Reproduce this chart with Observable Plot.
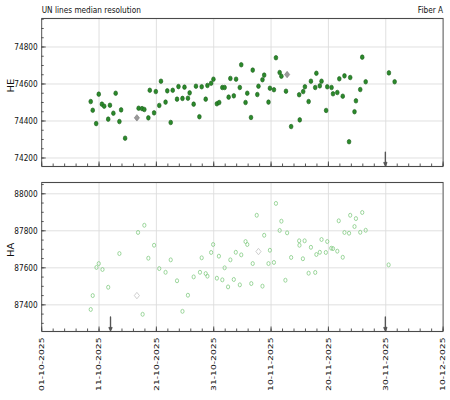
<!DOCTYPE html>
<html><head><meta charset="utf-8">
<script src="https://cdn.jsdelivr.net/npm/d3@7"></script>
<script src="https://cdn.jsdelivr.net/npm/@observablehq/plot@0.6"></script>
<style>
html,body{margin:0;padding:0;background:#fff;overflow:hidden;}
#chart svg{display:block;}
</style></head><body><div id="chart"></div>
<script>
// ---- data ----
const title = "UN lines median resolution";
const subtitle = "Fiber A";
const xTickLabels = ["01-10-2025","11-10-2025","21-10-2025","31-10-2025","10-11-2025","20-11-2025","30-11-2025","10-12-2025"];
// day offsets from 01-10-2025
const heDay = [8.55,8.9,9.5,9.95,10.5,10.9,11.6,11.9,12.5,12.9,13.55,13.85,14.55,16.9,17.5,17.9,18.6,18.85,19.6,19.9,20.5,20.8,21.6,21.9,22.5,22.85,23.6,23.85,24.55,24.9,25.5,25.8,26.5,26.9,27.5,27.9,28.6,28.9,29.55,29.95,30.55,30.95,31.5,31.9,32.6,32.9,33.5,33.9,34.55,34.8,35.55,35.85,36.5,36.8,37.6,37.8,38.5,38.8,39.55,39.8,40.5,40.85,41.5,41.8,42.6,43.5,44.9,45.0,45.6,45.9,46.55,46.95,47.7,47.9,48.5,48.8,49.6,49.8,50.55,50.8,51.55,51.9,52.5,52.8,53.6,53.8,54.55,54.8,55.55,55.9,56.5,60.55,61.55];
const heVal = [74505,74458,74386,74545,74491,74480,74410,74485,74442,74550,74397,74460,74307,74469,74467,74462,74417,74566,74444,74559,74484,74615,74502,74563,74392,74566,74518,74586,74522,74583,74523,74552,74491,74588,74423,74585,74518,74592,74604,74626,74493,74500,74581,74581,74529,74630,74536,74626,74581,74704,74500,74550,74419,74675,74543,74588,74623,74648,74502,74577,74569,74742,74662,74642,74561,74370,74542,74406,74559,74585,74505,74615,74581,74658,74590,74615,74457,74585,74581,74547,74554,74628,74534,74644,74288,74635,74450,74509,74570,74745,74612,74660,74612];
const heRefDay = [16.6, 42.8];
const heRefVal = [74417, 74651];
const heFlagDay = [59.93];
const haDay = [8.55,8.9,9.55,9.95,10.6,11.6,13.55,16.8,17.6,17.9,18.6,19.6,20.5,21.6,22.5,23.6,24.55,25.5,26.5,27.6,27.9,28.6,28.9,29.55,29.9,30.55,30.9,31.5,31.9,32.5,32.9,33.5,33.85,34.55,34.8,35.55,35.85,36.55,36.8,37.5,38.5,38.8,39.55,39.8,40.5,40.85,41.5,41.8,42.5,42.8,43.5,44.9,44.95,45.55,45.85,46.55,46.95,47.7,47.9,48.5,48.8,49.55,49.8,50.5,50.8,51.55,51.8,52.5,52.8,53.6,53.8,54.55,54.8,55.55,55.9,56.5,60.5];
const haVal = [87375,87450,87602,87623,87591,87495,87677,87791,87349,87830,87652,87722,87596,87576,87643,87530,87365,87452,87551,87576,87654,87569,87555,87683,87726,87544,87663,87535,87600,87497,87643,87537,87684,87508,87670,87742,87726,87515,87623,87884,87501,87776,87623,87695,87629,87948,87802,87852,87533,87789,87656,87746,87722,87649,87746,87571,87711,87575,87672,87684,87753,87683,87742,87706,87704,87690,87854,87657,87791,87787,87884,87823,87866,87792,87899,87803,87616];
const haRefDay = [16.6, 37.8];
const haRefVal = [87450, 87688];
const haFlagDay = [12.0, 59.93];
const heTicks = [74200, 74400, 74600, 74800];
const haTicks = [87400, 87600, 87800, 88000];
const heDomain = [74154, 74954];
const haDomain = [87256, 88061];

// ---- helpers ----
const parse = d3.utcParse("%d-%m-%Y");
const fmt = d3.utcFormat("%d-%m-%Y");
const majorDates = xTickLabels.map(parse);
const t0 = majorDates[0];
const toDate = d => new Date(+t0 + d * 864e5);
const xDomain = [majorDates[0], majorDates[majorDates.length - 1]];
const minorDates = d3.range(0, 71, 2).map(toDate);
const minorY = (dom) => d3.range(Math.ceil(dom[0] / 50) * 50, dom[1], 50);
const pts = (days, vals) => days.map((d, i) => ({date: toDate(d), v: vals[i]}));

const S = 0.8;               // horizontal squash of the reference
const W = 450 / S;
const ML = 41.3 / S, MR = (450 - 442.7) / S;
const PW = W - ML - MR;
const font = {fontFamily: "DejaVu Sans", fontSize: "9.2px", color: "#111", background: "white"};

function squash(svg, h) {
  svg.setAttribute("viewBox", `0 0 ${W} ${h}`);
  svg.setAttribute("preserveAspectRatio", "none");
  svg.style.width = "450px";
  svg.style.height = h + "px";
  svg.style.maxWidth = "none";
  return svg;
}

function panel({height, mt, mb, domain, ticks, data, ref, flags, filled, label, extra}) {
  const ph = height - mt - mb;
  const lo = domain[0], hi = domain[1];
  const marks = [
    Plot.gridX(majorDates, {stroke: "#dcdcdc", strokeOpacity: 1}),
    Plot.gridY(ticks, {stroke: "#dcdcdc", strokeOpacity: 1}),
    Plot.tickX(minorDates, {stroke: "#444", insetTop: ph - 2.5}),
    Plot.tickX(majorDates, {stroke: "#444", insetTop: ph - 4.5}),
    Plot.tickY(minorY(domain), {stroke: "#444", insetRight: PW - 3}),
    Plot.tickY(ticks, {stroke: "#444", insetRight: PW - 5.5}),
    Plot.axisY(ticks, {tickSize: 0, tickPadding: 5, tickFormat: d3.format("d"), label: null, fill: "#111"}),
    Plot.text([label], {frameAnchor: "left", rotate: -90, dx: 11 / S - ML, fontSize: 10, fill: "#111"}),
    filled
      ? Plot.dot(data, {x: "date", y: "v", r: 2.3, fill: "#2b8a2b", stroke: "#1c5f1c", strokeWidth: 0.7})
      : Plot.dot(data, {x: "date", y: "v", r: 2.0, fill: "none", stroke: "#86cc86", strokeWidth: 0.9}),
    filled
      ? Plot.dot(ref, {x: "date", y: "v", symbol: "diamond2", r: 2.9, fill: "#9a9a9a", stroke: "#7a7a7a", strokeWidth: 0.7})
      : Plot.dot(ref, {x: "date", y: "v", symbol: "diamond2", r: 2.9, fill: "white", stroke: "#c4c4c4", strokeWidth: 0.9}),
    Plot.arrow(flags, {
      x1: d => toDate(d), x2: d => toDate(d),
      y1: () => lo + 0.096 * (hi - lo), y2: () => lo + 0.006 * (hi - lo),
      stroke: "#555", strokeWidth: 1.7, headLength: 3
    }),
    Plot.frame({stroke: "#4a4a4a", strokeWidth: 1.1}),
    ...(extra || [])
  ];
  return squash(Plot.plot({
    width: W, height,
    marginLeft: ML, marginRight: MR, marginTop: mt, marginBottom: mb,
    style: font,
    x: {type: "utc", domain: xDomain, axis: null},
    y: {domain, axis: null},
    marks
  }), height);
}

const topPanel = panel({
  height: 174, mt: 18, mb: 8, domain: heDomain, ticks: heTicks,
  data: pts(heDay, heVal), ref: pts(heRefDay, heRefVal), flags: heFlagDay,
  filled: true, label: "HE",
  extra: [
    Plot.text([title], {frameAnchor: "top-left", textAnchor: "start", lineAnchor: "middle", dy: -8.5, fill: "#111"}),
    Plot.text([subtitle], {frameAnchor: "top-right", textAnchor: "end", lineAnchor: "middle", dy: -8.5, fill: "#111"})
  ]
});

const bottomPanel = panel({
  height: 226, mt: 8, mb: 69, domain: haDomain, ticks: haTicks,
  data: pts(haDay, haVal), ref: pts(haRefDay, haRefVal), flags: haFlagDay,
  filled: false, label: "HA",
  extra: [
    Plot.axisX(majorDates, {tickSize: 0, tickPadding: 6, tickRotate: -90, tickFormat: fmt, label: null, fill: "#111"})
  ]
});

const chart = document.getElementById("chart");
chart.appendChild(topPanel);
chart.appendChild(bottomPanel);
</script></body></html>
